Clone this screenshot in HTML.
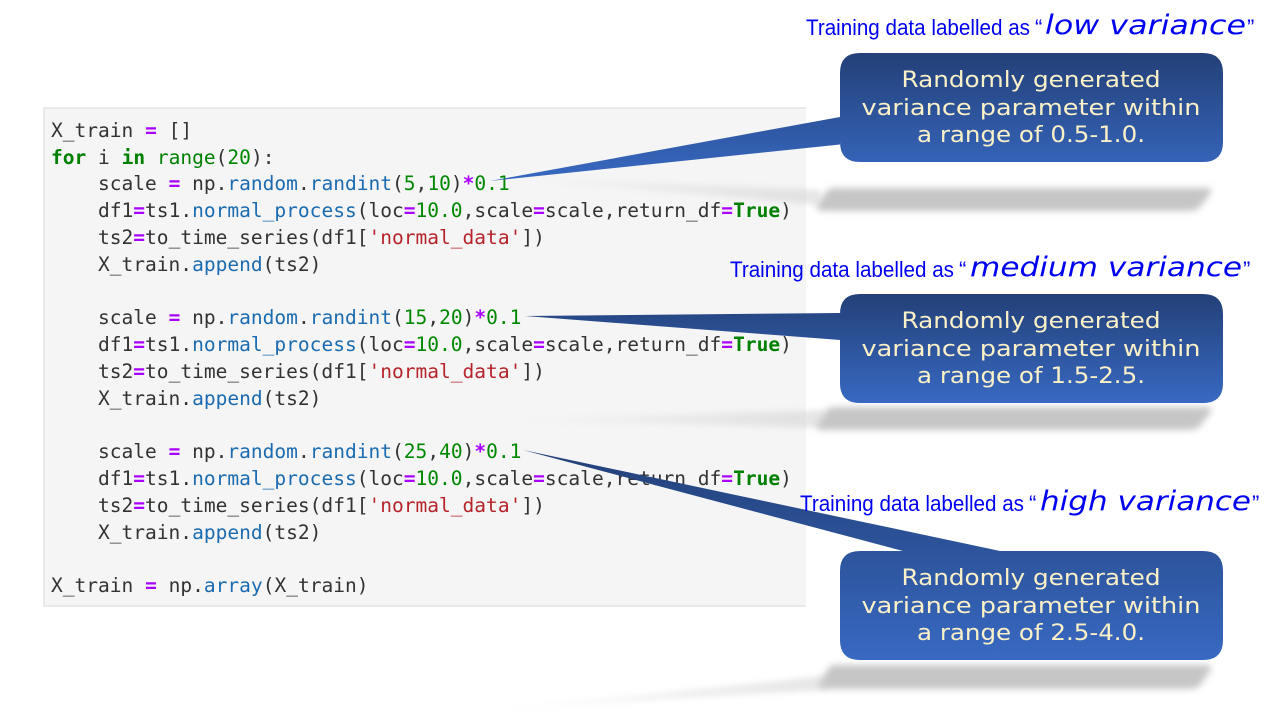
<!DOCTYPE html>
<html>
<head>
<meta charset="utf-8">
<style>
html,body{margin:0;padding:0;background:#fff;width:1268px;height:711px;overflow:hidden}
svg{display:block}
.c{font-family:"DejaVu Sans Mono","Liberation Mono",monospace;font-size:19.55px;fill:#333}
.k{fill:#008000;font-weight:bold}.o{fill:#a0f;font-weight:bold}.n{fill:#080}.b{fill:#1a6bb0}.s{fill:#b5242a}.g{fill:#008000}
.t{font-family:"Liberation Sans",sans-serif;font-size:22px;fill:#0000f0}
.h{font-family:"DejaVu Sans",sans-serif;font-style:italic;font-size:27px;fill:#0000f0}
.w{font-family:"DejaVu Sans",sans-serif;font-size:22px;fill:#fbf1c8;text-anchor:middle}
</style>
</head>
<body>
<svg width="1268" height="711" viewBox="0 0 1268 711" xmlns="http://www.w3.org/2000/svg">
<defs>
<linearGradient id="g1" x1="0" y1="0" x2="0" y2="1"><stop offset="0" stop-color="#234078"/><stop offset="1" stop-color="#3869c2"/></linearGradient>
<filter id="bl" x="-10%" y="-80%" width="120%" height="260%"><feGaussianBlur stdDeviation="3.5"/></filter>
<filter id="bl2" x="-10%" y="-200%" width="120%" height="500%"><feGaussianBlur stdDeviation="3"/></filter>
<linearGradient id="fd" x1="0" y1="0" x2="1" y2="0"><stop offset="0" stop-color="#ccc" stop-opacity="0"/><stop offset="1" stop-color="#ccc"/></linearGradient>
</defs>

<rect x="43" y="107" width="763" height="500" fill="#f5f5f5"/>
<rect x="43" y="107" width="763" height="2" fill="#e9e9e9"/>
<rect x="43" y="605" width="763" height="2" fill="#e9e9e9"/>
<rect x="43" y="107" width="2" height="500" fill="#e9e9e9"/>

<g class="c">
<text x="51" y="137" xml:space="preserve">X_train <tspan class="o">=</tspan> []</text>
<text x="51" y="164" xml:space="preserve"><tspan class="k">for</tspan> i <tspan class="k">in</tspan> <tspan class="g">range</tspan>(<tspan class="n">20</tspan>):</text>
<text x="98" y="190" xml:space="preserve">scale <tspan class="o">=</tspan> np.<tspan class="b">random</tspan>.<tspan class="b">randint</tspan>(<tspan class="n">5</tspan>,<tspan class="n">10</tspan>)<tspan class="o">*</tspan><tspan class="n">0.1</tspan></text>
<text x="98" y="217" xml:space="preserve">df1<tspan class="o">=</tspan>ts1.<tspan class="b">normal_process</tspan>(loc<tspan class="o">=</tspan><tspan class="n">10.0</tspan>,scale<tspan class="o">=</tspan>scale,return_df<tspan class="o">=</tspan><tspan class="k">True</tspan>)</text>
<text x="98" y="244" xml:space="preserve">ts2<tspan class="o">=</tspan>to_time_series(df1[<tspan class="s">'normal_data'</tspan>])</text>
<text x="98" y="271" xml:space="preserve">X_train.<tspan class="b">append</tspan>(ts2)</text>

<text x="98" y="324" xml:space="preserve">scale <tspan class="o">=</tspan> np.<tspan class="b">random</tspan>.<tspan class="b">randint</tspan>(<tspan class="n">15</tspan>,<tspan class="n">20</tspan>)<tspan class="o">*</tspan><tspan class="n">0.1</tspan></text>
<text x="98" y="351" xml:space="preserve">df1<tspan class="o">=</tspan>ts1.<tspan class="b">normal_process</tspan>(loc<tspan class="o">=</tspan><tspan class="n">10.0</tspan>,scale<tspan class="o">=</tspan>scale,return_df<tspan class="o">=</tspan><tspan class="k">True</tspan>)</text>
<text x="98" y="378" xml:space="preserve">ts2<tspan class="o">=</tspan>to_time_series(df1[<tspan class="s">'normal_data'</tspan>])</text>
<text x="98" y="405" xml:space="preserve">X_train.<tspan class="b">append</tspan>(ts2)</text>

<text x="98" y="458" xml:space="preserve">scale <tspan class="o">=</tspan> np.<tspan class="b">random</tspan>.<tspan class="b">randint</tspan>(<tspan class="n">25</tspan>,<tspan class="n">40</tspan>)<tspan class="o">*</tspan><tspan class="n">0.1</tspan></text>
<text x="98" y="485" xml:space="preserve">df1<tspan class="o">=</tspan>ts1.<tspan class="b">normal_process</tspan>(loc<tspan class="o">=</tspan><tspan class="n">10.0</tspan>,scale<tspan class="o">=</tspan>scale,return_df<tspan class="o">=</tspan><tspan class="k">True</tspan>)</text>
<text x="98" y="512" xml:space="preserve">ts2<tspan class="o">=</tspan>to_time_series(df1[<tspan class="s">'normal_data'</tspan>])</text>
<text x="98" y="539" xml:space="preserve">X_train.<tspan class="b">append</tspan>(ts2)</text>

<text x="51" y="592" xml:space="preserve">X_train <tspan class="o">=</tspan> np.<tspan class="b">array</tspan>(X_train)</text>
</g>

<!-- shadows -->
<g fill="#c6c6c6">
<path filter="url(#bl)" d="M834 188H1206Q1214 188 1210 194L1201 206Q1197 211 1189 211H824Q814 211 818 204L826 192Q829 188 834 188Z"/>
<path filter="url(#bl)" d="M834 407H1206Q1214 407 1210 413L1201 425Q1197 430 1189 430H824Q814 430 818 423L826 411Q829 407 834 407Z"/>
<path filter="url(#bl)" d="M834 665H1206Q1214 665 1210 671L1201 684Q1197 689 1189 689H826Q816 689 820 682L828 669Q830 665 834 665Z"/>
</g>
<g fill="url(#fd)" opacity=".5">
<path filter="url(#bl2)" d="M510 178L820 190V205Z"/>
<path filter="url(#bl2)" d="M510 420L825 410V428Z"/>
<path filter="url(#bl2)" d="M490 710L825 676V690Z"/>
</g>

<!-- callouts -->
<path fill="url(#g1)" d="M860 53H1203Q1223 53 1223 73V142Q1223 162 1203 162H860Q840 162 840 142V144.500L490 181L840 117V73Q840 53 860 53Z"/>
<path fill="url(#g1)" d="M860 294H1203Q1223 294 1223 314V383Q1223 403 1203 403H860Q840 403 840 383V340L525 316L840 313V314Q840 294 860 294Z"/>
<path fill="url(#g1)" d="M860 551H903L523 450L1000 551H1203Q1223 551 1223 571V640Q1223 660 1203 660H860Q840 660 840 640V571Q840 551 860 551Z"/>

<g class="w">
<text x="1031" y="87" textLength="259" lengthAdjust="spacingAndGlyphs">Randomly generated</text>
<text x="1031" y="115" textLength="339" lengthAdjust="spacingAndGlyphs">variance parameter within</text>
<text x="1031" y="142" textLength="228" lengthAdjust="spacingAndGlyphs">a range of 0.5-1.0.</text>
<text x="1031" y="328" textLength="259" lengthAdjust="spacingAndGlyphs">Randomly generated</text>
<text x="1031" y="356" textLength="339" lengthAdjust="spacingAndGlyphs">variance parameter within</text>
<text x="1031" y="383" textLength="228" lengthAdjust="spacingAndGlyphs">a range of 1.5-2.5.</text>
<text x="1031" y="585" textLength="259" lengthAdjust="spacingAndGlyphs">Randomly generated</text>
<text x="1031" y="613" textLength="339" lengthAdjust="spacingAndGlyphs">variance parameter within</text>
<text x="1031" y="640" textLength="228" lengthAdjust="spacingAndGlyphs">a range of 2.5-4.0.</text>
</g>

<!-- labels -->
<text class="t" x="806" y="35" textLength="224" lengthAdjust="spacingAndGlyphs">Training data labelled as</text>
<text class="t" x="1035" y="35">“</text>
<text class="h" x="1045" y="34" textLength="201" lengthAdjust="spacingAndGlyphs">low variance</text>
<text class="t" x="1247" y="35">”</text>

<text class="t" x="730" y="277" textLength="224" lengthAdjust="spacingAndGlyphs">Training data labelled as</text>
<text class="t" x="959" y="277">“</text>
<text class="h" x="970" y="276" textLength="272" lengthAdjust="spacingAndGlyphs">medium variance</text>
<text class="t" x="1243" y="277">”</text>

<text class="t" x="800" y="511" textLength="224" lengthAdjust="spacingAndGlyphs">Training data labelled as</text>
<text class="t" x="1029" y="511">“</text>
<text class="h" x="1040" y="510" textLength="211" lengthAdjust="spacingAndGlyphs">high variance</text>
<text class="t" x="1252" y="511">”</text>
</svg>
</body>
</html>
